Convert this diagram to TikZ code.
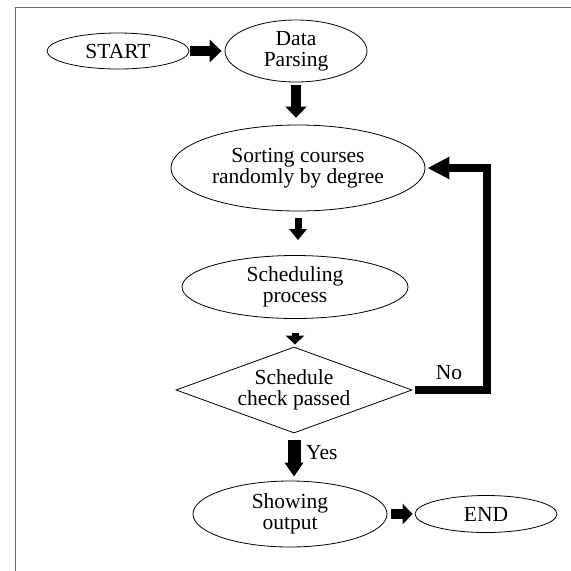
\documentclass[tikz,border=0pt]{standalone}
\usepackage{fontspec}
\setmainfont{Liberation Serif}
\usetikzlibrary{shapes.geometric,arrows.meta}
\newcommand\diagfont{\fontsize{21.5}{21}\selectfont}
\tikzset{
  oval/.style={ellipse, draw, line width=0.8pt, inner sep=0pt, align=center, font=\diagfont},
  decision/.style={diamond, draw, line width=0.8pt, inner sep=0pt, aspect=2.7, align=center, font=\diagfont},
  blk/.style args={#1/#2/#3}{draw, line width=#1, -{Triangle[length=#2,width=#3]}},
  lbl/.style={font=\diagfont, inner sep=0pt},
  frame/.style={draw=black!60, line width=1pt}
}
\begin{document}
\begin{tikzpicture}[x=1pt,y=-1pt]
\useasboundingbox (0,0) rectangle (571,571);
% frame
\coordinate (f1) at (15,571);
\coordinate (f2) at (15,7);
\coordinate (f3) at (571,7);
\draw[frame] (f1) -- (f2) -- (f3);
% nodes
\node[oval, minimum width=142pt, minimum height=36pt] (start) at (118,51) {START};
\node[oval, minimum width=142pt, minimum height=62pt] (data) at (296,51) {Data\\Parsing};
\node[oval, minimum width=254pt, minimum height=86pt] (sort) at (298,168) {Sorting courses\\randomly by degree};
\node[oval, minimum width=226pt, minimum height=63pt] (sched) at (295,287) {Scheduling\\process};
\node[decision, minimum width=236pt, minimum height=86pt] (chk) at (294,390) {Schedule\\check passed};
\node[oval, minimum width=194pt, minimum height=66pt] (show) at (290,514) {Showing\\output};
\node[oval, minimum width=142pt, minimum height=37pt] (end) at (486,514) {END};
\coordinate (fb) at (487,390);
% arrows
\draw[blk=10pt/12pt/22pt, shorten <=1pt, shorten >=3pt] (start.east) -- (data.west);
\draw[blk=10pt/11pt/21pt, shorten <=3pt, shorten >=7pt] (data.south) -- (data.south |- sort.north);
\draw[blk=7pt/11pt/17pt, shorten <=7pt, shorten >=15pt] (sort.south) -- (sort.south |- sched.north);
\draw[blk=7pt/9pt/18pt, shorten <=14pt, shorten >=2pt] (sched.south) -- (sched.south |- chk.north);
\draw[blk=13pt/14pt/18pt, shorten <=7pt, shorten >=4pt] (chk.south) -- (chk.south |- show.north);
\draw[blk=10pt/10pt/20pt, shorten <=4pt, shorten >=2pt] (show.east) -- (end.west);
\draw[blk=8pt/22pt/21pt, shorten <=3pt, shorten >=2pt] (chk.east) -- (fb) |- (sort.east);
% labels
\node[lbl, anchor=base west] (yes) at (306,459) {Yes};
\node[lbl, anchor=base] (no) at (449,379) {No};
\end{tikzpicture}
\end{document}
